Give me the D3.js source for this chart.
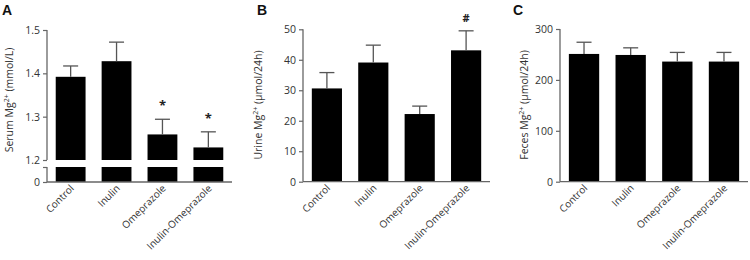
<!DOCTYPE html>
<html><head><meta charset="utf-8">
<script src="https://cdn.jsdelivr.net/npm/d3@7"></script>
<style>
body{margin:0;background:#fff;}
svg{display:block;font-family:"Open Sans",sans-serif;}
</style></head><body>
<svg id="c" width="750" height="260"></svg>
<script>
const categories = ["Control","Inulin","Omeprazole","Inulin-Omeprazole"];
const serumMean = [1.392, 1.428, 1.259, 1.229];
const serumErr  = [1.417, 1.472, 1.294, 1.265];
const serumMarks = ["", "", "*", "*"];
const urineMean = [30.6, 39.1, 22.2, 43.1];
const urineErr  = [35.8, 44.8, 24.8, 49.5];
const urineMarks = ["", "", "", "#"];
const fecesMean = [251, 249, 236, 236];
const fecesErr  = [274, 263, 254, 254];
const fecesMarks = ["", "", "", ""];
const serumTicks = [1.2, 1.3, 1.4, 1.5];
const urineTicks = [0, 10, 20, 30, 40, 50];
const fecesTicks = [0, 100, 200, 300];

const svg = d3.select("#c");
const AX = "#666", TXT = "#333", ERR = "#555";

function drawPanel(o){
  const g = svg.append("g");
  const x = d3.scaleBand().domain(categories).range([o.x0, o.x1]).paddingInner(0.35).paddingOuter(0.19);
  // panel letter
  g.append("text").attr("x", o.letterX).attr("y", 15).attr("font-family","Liberation Sans, Arial, sans-serif")
    .attr("font-weight","bold").attr("font-size",14).attr("fill","#111").text(o.letter);
  // y title
  const t = g.append("text").attr("transform",`translate(${o.titleX},${o.titleY}) rotate(-90)`)
    .attr("text-anchor","middle").attr("font-size",10.5).attr("fill",TXT);
  t.append("tspan").text(o.titlePre);
  t.append("tspan").attr("dy",-4).attr("font-size",7).text("2+");
  t.append("tspan").attr("dy",4).text(o.titlePost);

  const y = d3.scaleLinear().domain(o.domain).range([o.yBottom, o.yTop]);
  const base = o.broken ? o.domain[0] : 0;
  // bars (upper part)
  g.selectAll(".bar").data(o.mean).join("rect")
    .attr("x",(d,i)=>x(categories[i])).attr("width",x.bandwidth())
    .attr("y",d=>y(d)).attr("height",d=>y(base)-y(d)).attr("fill","#000");
  // error bars
  const cap = 7.5;
  o.err.forEach((e,i)=>{
    const cx = x(categories[i]) + x.bandwidth()/2;
    g.append("line").attr("x1",cx).attr("x2",cx).attr("y1",y(o.mean[i])).attr("y2",y(e)).attr("stroke",ERR).attr("stroke-width",1.3);
    g.append("line").attr("x1",cx-cap).attr("x2",cx+cap).attr("y1",y(e)).attr("y2",y(e)).attr("stroke",ERR).attr("stroke-width",1.3);
    if(o.marks[i]) g.append("text").attr("x",cx).attr("y",y(e)-9).attr("text-anchor","middle")
      .attr("font-size",o.marks[i]==="*"?13:11).attr("font-weight","bold").attr("fill","#222").text(o.marks[i]);
  });
  // y axis
  const ya = g.append("g").attr("transform",`translate(${o.x0},0)`)
    .call(d3.axisLeft(y).tickValues(o.ticks).tickSize(4).tickPadding(3).tickFormat(d=>d3.format(o.fmt)(d)));
  ya.select(".domain").attr("stroke",AX).attr("stroke-width",1.3).attr("d",`M0,${o.yBottom}V${o.yTop}`);
  ya.selectAll(".tick line").attr("stroke",AX).attr("stroke-width",1.2);
  ya.selectAll(".tick text").attr("font-size",10.5).attr("fill",TXT).attr("font-family","Open Sans, sans-serif");

  let axisY = o.yBottom;
  if(o.broken){
    // lower segment
    const yl = d3.scaleLinear().domain([0, o.domain[0]]).range([o.lowBottom, o.lowTop]);
    g.selectAll(".lbar").data(o.mean).join("rect")
      .attr("x",(d,i)=>x(categories[i])).attr("width",x.bandwidth())
      .attr("y",yl(o.domain[0])).attr("height",yl(0)-yl(o.domain[0])).attr("fill","#000");
    const la = g.append("g").attr("transform",`translate(${o.x0},0)`)
      .call(d3.axisLeft(yl).tickValues([0, o.domain[0]]).tickSize(4).tickPadding(3).tickFormat(d=>d===0?"0":""));
    la.select(".domain").attr("stroke",AX).attr("stroke-width",1.3).attr("d",`M0,${o.lowBottom}V${o.lowTop}`);
    la.selectAll(".tick line").attr("stroke",AX).attr("stroke-width",1.2);
    la.selectAll(".tick text").attr("font-size",10.5).attr("fill",TXT).attr("font-family","Open Sans, sans-serif");
    axisY = o.lowBottom;
  }
  // x axis
  const xa = g.append("g").attr("transform",`translate(0,${axisY})`)
    .call(d3.axisBottom(x).tickSize(0).tickPadding(0));
  xa.select(".domain").attr("stroke",AX).attr("stroke-width",1.3).attr("d",`M${o.x0},0H${o.x1}`);
  xa.selectAll(".tick text").attr("font-size",10).attr("fill",TXT).attr("font-family","Open Sans, sans-serif")
    .attr("text-anchor","end").attr("dy",0)
    .attr("transform","translate(4,7) rotate(-45)");
}

drawPanel({letter:"A", letterX:2, x0:47, x1:232, domain:[1.2,1.5], yBottom:160, yTop:30,
  broken:true, lowBottom:182, lowTop:167, ticks:serumTicks, fmt:".1f",
  mean:serumMean, err:serumErr, marks:serumMarks,
  titleX:13, titleY:100, titlePre:"Serum Mg", titlePost:" (mmol/L)"});
drawPanel({letter:"B", letterX:257, x0:303, x1:490, domain:[0,50], yBottom:181.7, yTop:29.3,
  broken:false, ticks:urineTicks, fmt:"d",
  mean:urineMean, err:urineErr, marks:urineMarks,
  titleX:262, titleY:105, titlePre:"Urine Mg", titlePost:" (\u03bcmol/24h)"});
drawPanel({letter:"C", letterX:513, x0:560, x1:748, domain:[0,300], yBottom:181.7, yTop:29,
  broken:false, ticks:fecesTicks, fmt:"d",
  mean:fecesMean, err:fecesErr, marks:fecesMarks,
  titleX:528, titleY:105, titlePre:"Feces Mg", titlePost:" (\u03bcmol/24h)"});
</script>
</body></html>
